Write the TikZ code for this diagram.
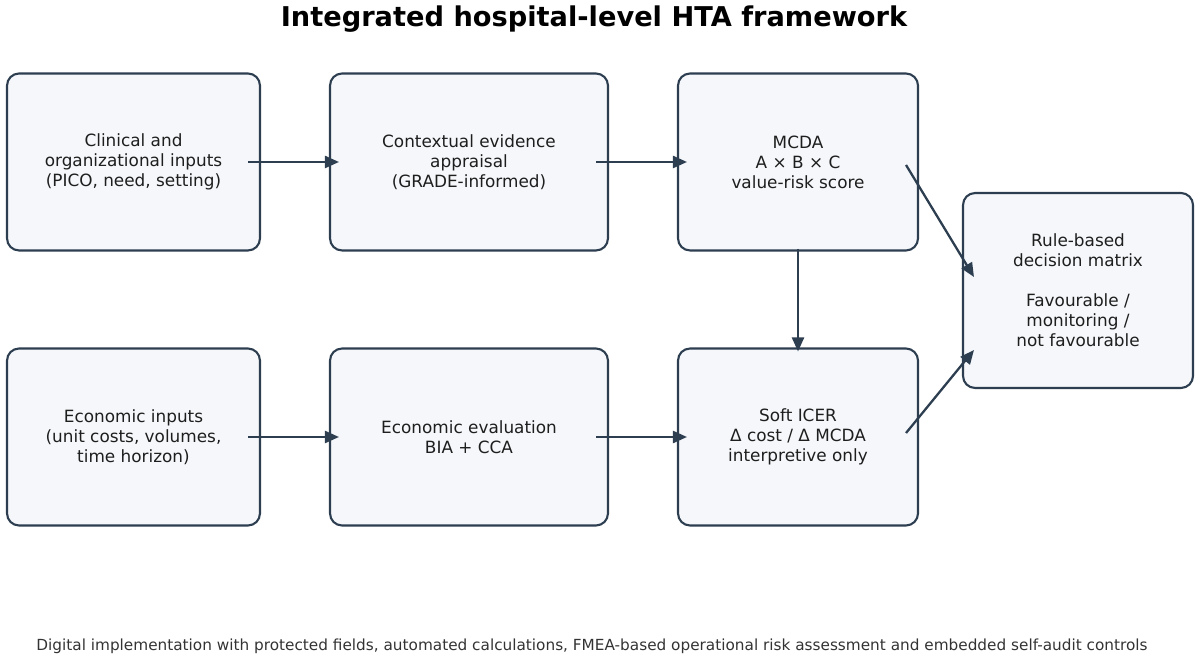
\documentclass[tikz,border=0pt]{standalone}
\usepackage{fontspec}
\setmainfont{DejaVu Sans}
\usepackage{xcolor}
\usepackage{tikz}
\usetikzlibrary{arrows.meta,positioning,calc}
\definecolor{navy}{HTML}{2C3E50}
\definecolor{boxfill}{HTML}{F5F7FA}
\definecolor{ink}{HTML}{1E1E1E}

\begin{document}
\begin{tikzpicture}[x=0.02cm, y=-0.02cm,
    stage/.style={draw=navy, line width=1.2pt, fill=boxfill, rounded corners=0.24cm,
        align=center, text=ink, font=\fontsize{9.6}{11.4}\selectfont, inner sep=0pt},
    link/.style={draw=navy, line width=1.3pt, -{Triangle[length=0.28cm, width=0.24cm]}},
    hlink/.style={link, shorten <=-0.26cm, shorten >=-0.2cm}]
    \useasboundingbox (0,0) rectangle (1200,658);

    % Title
    \node[font=\bfseries\fontsize{15.5}{18}\selectfont, text=black] (title) at (594,19)
        {Integrated hospital-level HTA framework};

    % Top row
    \node[stage, minimum width=5.06cm, minimum height=3.54cm] (clin) at (133.5,162)
        {Clinical and\\organizational inputs\\(PICO, need, setting)};
    \node[stage, minimum width=5.56cm, minimum height=3.54cm] (appr) at (469,162)
        {Contextual evidence\\appraisal\\(GRADE-informed)};
    \node[stage, minimum width=4.8cm, minimum height=3.54cm] (mcda) at (798,162)
        {MCDA\\A × B × C\\value-risk score};

    % Bottom row
    \node[stage, minimum width=5.06cm, minimum height=3.54cm] (econ) at (133.5,437)
        {Economic inputs\\(unit costs, volumes,\\time horizon)};
    \node[stage, minimum width=5.56cm, minimum height=3.54cm] (eval) at (469,437)
        {Economic evaluation\\BIA + CCA};
    \node[stage, minimum width=4.8cm, minimum height=3.54cm] (icer) at (798,437)
        {Soft ICER\\Δ cost / Δ MCDA\\interpretive only};

    % Decision
    \node[stage, minimum width=4.6cm, minimum height=3.9cm] (dec) at (1078,290.5)
        {Rule-based\\decision matrix\\[11.4pt]Favourable /\\monitoring /\\not favourable};

    % Connectors
    \draw[hlink] (clin) -- (appr);
    \draw[hlink] (appr) -- (mcda);
    \draw[hlink] (econ) -- (eval);
    \draw[hlink] (eval) -- (icer);
    \draw[link, shorten <=-0.06cm, shorten >=-0.08cm] (mcda) -- (icer);
    \draw[link] ($(mcda.east)+(-13,3)$) -- ($(dec.west)+(12,-13.5)$);
    \draw[link] ($(icer.east)+(-13,-4)$) -- ($(dec.west)+(12,59.5)$);

    % Footer
    \node[font=\fontsize{8.7}{10}\selectfont, text=black!80] (foot) at (592,646)
        {Digital implementation with protected fields, automated calculations, FMEA-based operational risk assessment and embedded self-audit controls};
\end{tikzpicture}
\end{document}
